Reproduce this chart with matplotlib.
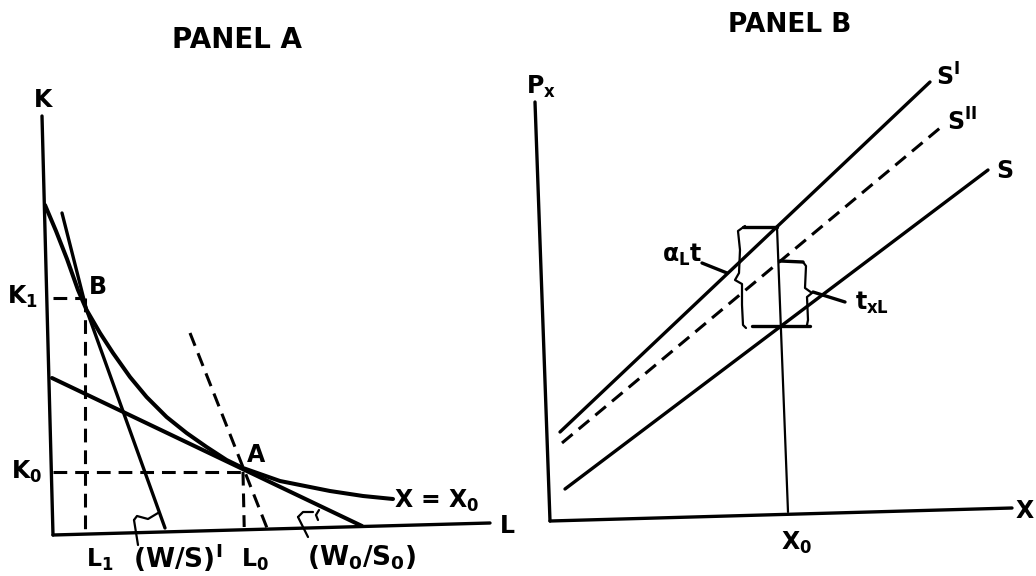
import matplotlib
matplotlib.use("Agg")
import matplotlib.pyplot as plt

plt.rcParams['font.family'] = ['DejaVu Sans']
plt.rcParams['font.weight'] = 'bold'
plt.rcParams['mathtext.fontset'] = 'custom'
plt.rcParams['mathtext.rm'] = 'DejaVu Sans:bold'
plt.rcParams['mathtext.it'] = 'DejaVu Sans:bold'
plt.rcParams['mathtext.bf'] = 'DejaVu Sans:bold'
plt.rcParams['mathtext.sf'] = 'DejaVu Sans:bold'

# ---------------- Panel A data (L, K) ----------------
k_axis_L = [0.0, -0.275]
k_axis_K = [0.0, 10.475]
l_axis_L = [0.0, 10.925]
l_axis_K = [0.0, 0.30]

isoquant_L = [-0.2, 0.075, 0.35, 0.625, 0.84, 1.175, 1.5, 1.925, 2.34, 2.84, 3.34,
              3.84, 4.34, 4.75, 5.675, 6.925, 7.75, 8.5]
isoquant_K = [8.25, 7.6, 6.9, 6.125, 5.625, 5.05, 4.55, 3.95, 3.45, 2.95, 2.55,
              2.2, 1.875, 1.675, 1.35, 1.1, 0.975, 0.9]

steep_L = [0.225, 0.84, 2.8]       # (W/S)' price line
steep_K = [8.05, 5.625, 0.175]
flat_L = [-0.025, 7.725]           # (W0/S0) price line
flat_K = [3.925, 0.225]
steep_dash_L = [3.425, 5.35]       # dashed parallel price line
steep_dash_K = [5.05, 0.175]

K1 = 5.925
L1 = 0.8
B_L = 0.725
K0 = 1.58
L0 = 4.75

flag1_L = [2.025, 2.1, 2.375, 2.625]
flag1_K = [0.375, 0.475, 0.40, 0.55]
flag1_lead_L = [2.025, 2.125]
flag1_lead_K = [0.375, -0.25]
flag2_L = [6.125, 6.25, 6.5]
flag2_K = [0.45, 0.575, 0.575]
flag2_arc_L = [6.65, 6.575, 6.625]
flag2_arc_K = [0.625, 0.5, 0.375]
flag2_lead_L = [6.125, 6.375]
flag2_lead_K = [0.45, -0.05]

# ---------------- Panel B data (X, Px) ----------------
p_axis_X = [0.0, -0.375]
p_axis_P = [0.0, 10.475]
x_axis_X = [0.0, 11.55]
x_axis_P = [0.0, 0.325]

S1_X = [0.25, 9.5]       # S'
S1_P = [2.225, 10.975]
S2_X = [0.3, 9.75]       # S''
S2_P = [1.95, 9.825]
S_X = [0.375, 10.95]     # S
S_P = [0.8, 8.775]

x0_line_X = [5.675, 5.95]
x0_line_P = [7.35, 0.225]

top_tick_X = [4.825, 5.675]
top_tick_P = [7.35, 7.35]
mid_tick_X = [5.75, 6.325]
mid_tick_P = [6.5, 6.475]
bot_tick_X = [5.05, 6.5]
bot_tick_P = [4.875, 4.875]

left_brace_X = [4.875, 4.7, 4.75, 4.725, 4.625, 4.8, 4.8, 4.825, 4.9]
left_brace_P = [7.375, 7.25, 6.775, 6.2, 6.025, 5.925, 5.4, 4.9, 4.825]
right_brace_X = [6.325, 6.4, 6.375, 6.55, 6.425, 6.45, 6.425]
right_brace_P = [6.475, 6.375, 5.825, 5.7, 5.6, 5.025, 4.9]

alpha_lead_X = [3.8, 4.425]
alpha_lead_P = [6.45, 6.2]
txl_lead_X = [6.575, 7.375]
txl_lead_P = [5.725, 5.475]

# ---------------- Drawing ----------------
fig = plt.figure(figsize=(10.36, 5.76), dpi=100)
axA = fig.add_axes([0, 0, 0.5, 1])
axB = fig.add_axes([0.5, 0, 0.5, 1])
axA.set_xlim(-1.325, 11.625)
axA.set_ylim(-1.025, 13.375)
axB.set_xlim(-0.8, 12.15)
axB.set_ylim(-1.375, 13.025)
for ax in (axA, axB):
    ax.axis('off')

LW = 2.4
solid = dict(color='black', lw=LW, solid_capstyle='round', solid_joinstyle='round')
thick = dict(color='black', lw=2.9, solid_capstyle='round', solid_joinstyle='round')
thin = dict(color='black', lw=1.6, solid_capstyle='round', solid_joinstyle='round')
dashed = dict(color='black', lw=2.2, dashes=(4.5, 2.6), dash_capstyle='butt')

# Panel A
axA.plot(k_axis_L, k_axis_K, **solid)
axA.plot(l_axis_L, l_axis_K, **solid)
axA.plot(isoquant_L, isoquant_K, **thick)
axA.plot(steep_L, steep_K, **solid)
axA.plot(flat_L, flat_K, **thick)
axA.plot(steep_dash_L, steep_dash_K, **dashed)
axA.plot([0.0, B_L], [K1, K1], **dashed)
axA.plot([L1, L1], [K1, 0.05], **dashed)
axA.plot([0.0, L0], [K0, K0], **dashed)
axA.plot([L0, L0 + 0.03], [K0, 0.2], **dashed)
axA.plot(flag1_L, flag1_K, **thin)
axA.plot(flag1_lead_L, flag1_lead_K, **thin)
axA.plot(flag2_L, flag2_K, **thin)
axA.plot(flag2_arc_L, flag2_arc_K, **thin)
axA.plot(flag2_lead_L, flag2_lead_K, **thin)

lab = dict(fontsize=17, fontweight='bold', ha='center', va='center')
big = dict(fontsize=19, fontweight='bold', ha='center', va='center')
axA.text(4.6, 12.375, 'PANEL A', fontsize=20, fontweight='bold', ha='center', va='center')
axA.text(-0.25, 10.875, 'K', **lab)
axA.text(-0.775, 5.95, r'K$_1$', **lab)
axA.text(1.125, 6.2, 'B', **lab)
axA.text(5.075, 2.0, 'A', **lab)
axA.text(-0.65, 1.575, r'K$_0$', **lab)
axA.text(9.6, 0.85, r'X = X$_0$', **lab)
axA.text(11.35, 0.225, 'L', **lab)
axA.text(1.175, -0.625, r'L$_1$', **lab)
axA.text(3.125, -0.575, r'(W/S)$^{\mathrm{I}}$', **big)
axA.text(5.05, -0.625, r'L$_0$', **lab)
axA.text(7.725, -0.575, r'(W$_0$/S$_0$)', **big)

# Panel B
axB.plot(p_axis_X, p_axis_P, **solid)
axB.plot(x_axis_X, x_axis_P, **solid)
axB.plot(S1_X, S1_P, **solid)
axB.plot(S2_X, S2_P, **dashed)
axB.plot(S_X, S_P, **solid)
axB.plot(x0_line_X, x0_line_P, **thin)
axB.plot(top_tick_X, top_tick_P, **solid)
axB.plot(mid_tick_X, mid_tick_P, **solid)
axB.plot(bot_tick_X, bot_tick_P, **solid)
axB.plot(left_brace_X, left_brace_P, **thin)
axB.plot(right_brace_X, right_brace_P, **thin)
axB.plot(alpha_lead_X, alpha_lead_P, **solid)
axB.plot(txl_lead_X, txl_lead_P, **solid)

axB.text(6.0, 12.4, 'PANEL B', fontsize=19, fontweight='bold', ha='center', va='center')
axB.text(-0.225, 10.85, r'P$_x$', **lab)
axB.text(9.95, 11.1, r'S$^{\mathrm{I}}$', **lab)
axB.text(10.3, 9.975, r'S$^{\mathrm{II}}$', **lab)
axB.text(11.375, 8.75, 'S', **lab)
axB.text(11.875, 0.25, 'X', **lab)
axB.text(6.175, -0.55, r'X$_0$', **lab)
axB.text(3.3, 6.65, r'$\alpha_L t$', fontsize=17, fontweight='bold', ha='center', va='center')
axB.text(8.05, 5.45, r'$t_{xL}$', fontsize=17, fontweight='bold', ha='center', va='center')

fig.savefig('out.png', dpi=100)
